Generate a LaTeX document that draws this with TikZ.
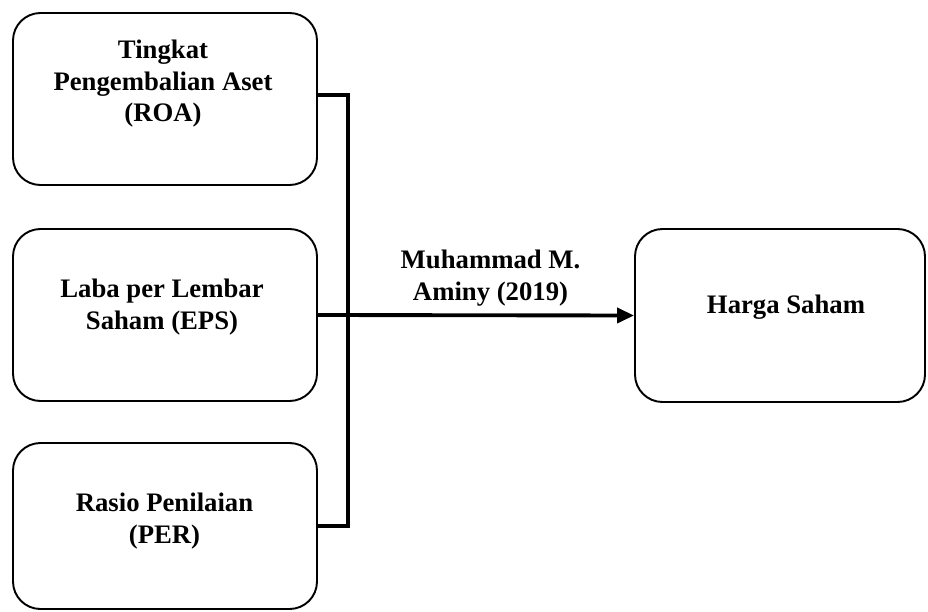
\documentclass[tikz,border=0pt]{standalone}
\usepackage{fontspec}
\setmainfont{Liberation Serif}
\usetikzlibrary{arrows.meta}
\begin{document}
\begin{tikzpicture}[%
      box/.style={draw,rectangle,rounded corners=0.55cm,line width=1.1pt,
        minimum width=6.08cm,minimum height=3.44cm,inner sep=0pt},
      txt/.style={anchor=base,align=center,inner sep=0pt,
        font=\bfseries\fontsize{15.2}{18}\selectfont},
      link/.style={line width=2.2pt}]
      \useasboundingbox (0,0) rectangle (18.56,-12.24);
      % boxes
      \node[box] at(3.30,-1.98)(roa){};
      \node[box] at(3.30,-6.30)(eps){};
      \node[box,minimum height=3.32cm] at(3.30,-10.52)(per){};
      \node[box,minimum width=5.80cm,minimum height=3.46cm]
      at(15.60,-6.31)(harga){};
      % texts (base = last line)
      \node[txt] at(3.26,-2.44)(roat){Tingkat\\Pengembalian Aset\\(ROA)};
      \node[txt] at(3.24,-6.58)(epst){Laba per Lembar\\Saham (EPS)};
      \node[txt] at(3.29,-10.86)(pert){Rasio Penilaian\\(PER)};
      \node[txt] at(15.72,-6.26)(hargat){Harga Saham};
      \node[txt] at(9.81,-6.00)(ref){Muhammad M.\\Aminy (2019)};
      % connectors
      \coordinate (bus) at(6.96,-6.30);
      \draw[link]([yshift=0.08cm]roa.east)-|(bus);
      \draw[link](per.east)-|(bus);
      \draw[link,-{Triangle[length=0.34cm,width=0.30cm]}](eps.east)--(harga.west);
    \end{tikzpicture}
\end{document}
